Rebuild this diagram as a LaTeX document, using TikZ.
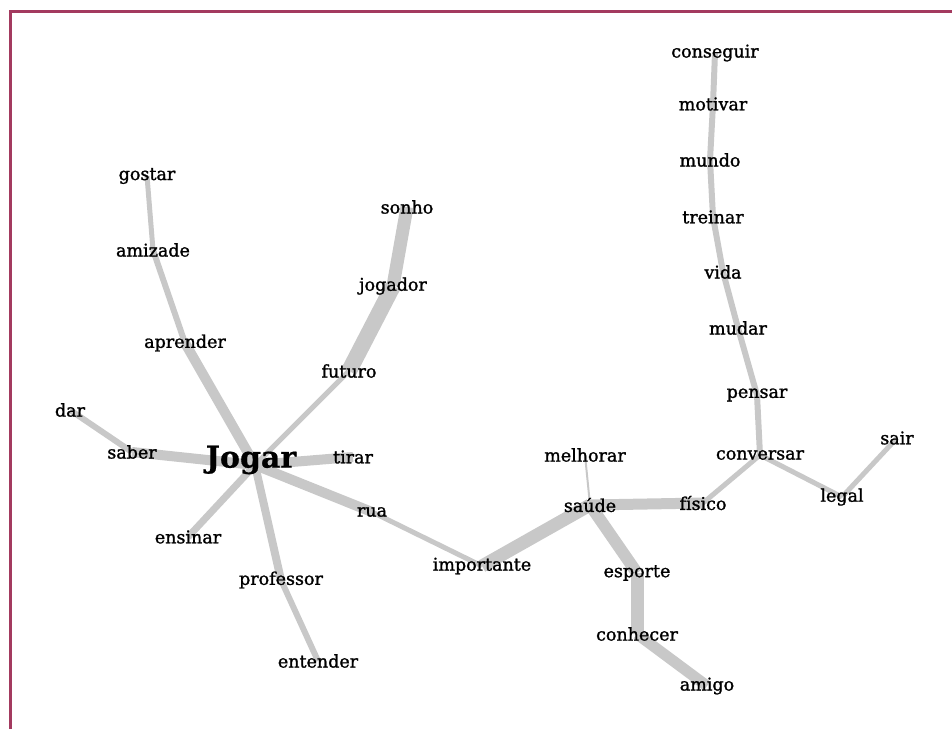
\documentclass[tikz,border=0pt]{standalone}
\usepackage{fontspec}
\setmainfont{DejaVu Serif}
\newfontfamily\wordfont[FakeBold=1.4]{DejaVu Serif}
\newfontfamily\hubfont[FakeBold=0.6]{DejaVu Serif Bold}
\definecolor{frame}{RGB}{163,58,95}
\definecolor{linkgray}{RGB}{200,200,200}
\pgfdeclarelayer{background}
\pgfsetlayers{background,main}
\tikzset{
  word/.style={font=\wordfont\fontsize{17.5}{20}\selectfont, inner sep=0pt, text=black},
  hub/.style={font=\hubfont\fontsize{30}{34}\selectfont, inner sep=0pt, text=black},
  link/.style={draw=linkgray, line join=round},
}
\begin{document}
\begin{tikzpicture}[x=1pt,y=-1pt]
\useasboundingbox (0,0) rectangle (952,729);
% frame
\draw[frame, line width=3.5pt] (10.5,729) -- (10.5,11.5) -- (952,11.5);
% words
\node[word] (conseguir) at (715,53) {conseguir};
\node[word] (motivar) at (713,104) {motivar};
\node[word] (mundo) at (710,160) {mundo};
\node[word] (treinar) at (713,217) {treinar};
\node[word] (vida) at (723,272) {vida};
\node[word] (mudar) at (738,328) {mudar};
\node[word] (pensar) at (757,395) {pensar};
\node[word] (conversar) at (760,455) {conversar};
\node[word] (sair) at (897,438) {sair};
\node[word] (legal) at (842,497) {legal};
\node[word] (fisico) at (703,503) {físico};
\node[word] (melhorar) at (585,455) {melhorar};
\node[word] (saude) at (590,505) {saúde};
\node[word] (esporte) at (637,573) {esporte};
\node[word] (conhecer) at (637,634) {conhecer};
\node[word] (amigo) at (707,686) {amigo};
\node[word] (importante) at (482,566) {importante};
\node[word] (rua) at (372,512) {rua};
\node[hub] (jogar) at (251,460) {Jogar};
\coordinate (jh) at (255,465);
\node[word] (tirar) at (353,457) {tirar};
\node[word] (saber) at (132,452) {saber};
\node[word] (dar) at (70,410) {dar};
\node[word] (ensinar) at (188,537) {ensinar};
\node[word] (professor) at (281,580) {professor};
\node[word] (entender) at (318,661) {entender};
\node[word] (futuro) at (349,371) {futuro};
\node[word] (jogador) at (393,286) {jogador};
\node[word] (sonho) at (407,207) {sonho};
\node[word] (aprender) at (185,343) {aprender};
\node[word] (amizade) at (153,250) {amizade};
\node[word] (gostar) at (147,176) {gostar};
% edges behind the words
\begin{pgfonlayer}{background}
\draw[link, line width=6pt] (conseguir.center) -- (motivar.center) -- (mundo.center) -- (treinar.center) -- (vida.center) -- (mudar.center) -- (pensar.center) -- (conversar.center);
\draw[link, line width=5pt] (conversar.center) -- (fisico.center);
\draw[link, line width=5pt] (conversar.center) -- (legal.center);
\draw[link, line width=5pt] (legal.center) -- (sair.center);
\draw[link, line width=11pt] (saude.center) -- (fisico.center);
\draw[link, line width=2pt] (melhorar.center) -- (saude.center);
\draw[link, line width=13pt] (importante.center) -- (saude.center);
\draw[link, line width=12pt] (saude.center) -- (esporte.center);
\draw[link, line width=13pt] (esporte.center) -- (conhecer.center);
\draw[link, line width=11pt] (conhecer.center) -- (amigo.center);
\draw[link, line width=5pt] (rua.center) -- (importante.center);
\draw[link, line width=10pt] (jh) -- (rua.center);
\draw[link, line width=10pt] (jh) -- (tirar.center);
\draw[link, line width=10pt] (jh) -- (saber.center);
\draw[link, line width=6pt] (saber.center) -- (dar.center);
\draw[link, line width=7pt] (jh) -- (ensinar.center);
\draw[link, line width=8pt] (jh) -- (professor.center);
\draw[link, line width=6pt] (professor.center) -- (entender.center);
\draw[link, line width=5pt] (jh) -- (futuro.center);
\draw[link, line width=16pt] (futuro.center) -- (jogador.center);
\draw[link, line width=13pt] (jogador.center) -- (sonho.center);
\draw[link, line width=10pt] (jh) -- (aprender.center);
\draw[link, line width=6pt] (aprender.center) -- (amizade.center);
\draw[link, line width=5pt] (amizade.center) -- (gostar.center);
\end{pgfonlayer}
\end{tikzpicture}
\end{document}
